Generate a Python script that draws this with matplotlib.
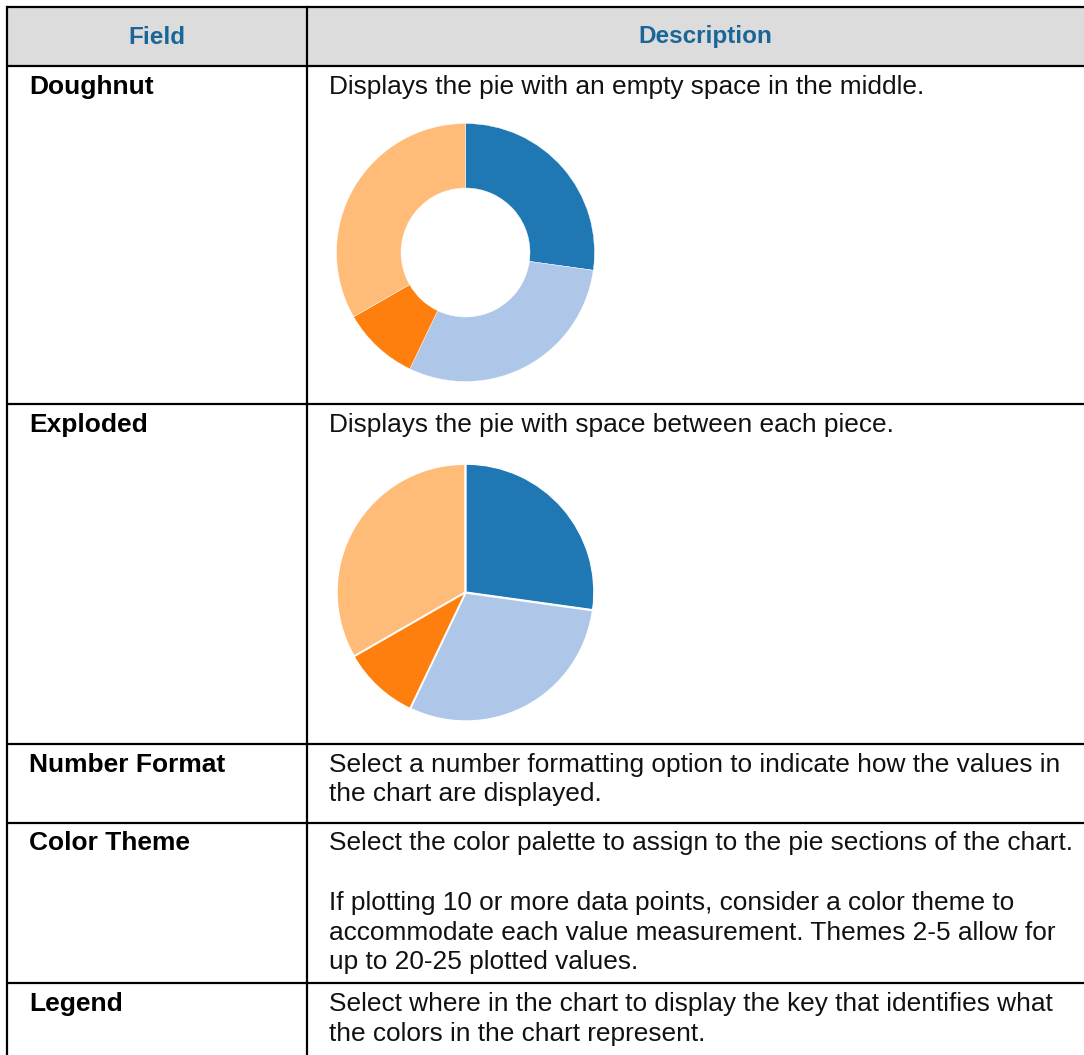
import matplotlib.pyplot as plt

W, H = 1084, 1055
DPI = 100

# table content
header = ["Field", "Description"]
fields = ["Doughnut", "Exploded", "Number Format", "Color Theme", "Legend"]
descriptions = [
    ["Displays the pie with an empty space in the middle."],
    ["Displays the pie with space between each piece."],
    ["Select a number formatting option to indicate how the values in",
     "the chart are displayed."],
    ["Select the color palette to assign to the pie sections of the chart.",
     None,
     "If plotting 10 or more data points, consider a color theme to",
     "accommodate each value measurement. Themes 2-5 allow for",
     "up to 20-25 plotted values."],
    ["Select where in the chart to display the key that identifies what",
     "the colors in the chart represent."],
]

# sample pie values (share of the circle, clockwise from 12 o'clock)
pie_values = [27.2, 29.9, 9.6, 33.3]
pie_colors = ["#1f77b4", "#aec7e8", "#ff7f0e", "#ffbb78"]

plt.rcParams['font.family'] = ['Liberation Sans', 'DejaVu Sans']

fig = plt.figure(figsize=(W / DPI, H / DPI), dpi=DPI)
ax = fig.add_axes([0, 0, 1, 1])
ax.set_xlim(0, W)
ax.set_ylim(H, 0)
ax.axis("off")

left, mid, right = 7, 307, W + 5
row_tops = [7, 66, 404, 744, 823, 983]
lw = 1.6

# header band
ax.fill_between([left, right], row_tops[0], row_tops[1], color="#dcdcdc", lw=0)
for y in row_tops:
    ax.plot([left, right], [y, y], color="black", lw=lw, solid_capstyle="butt")
ax.plot([left, left], [row_tops[0], H + 5], color="black", lw=lw)
ax.plot([mid, mid], [row_tops[0], H + 5], color="black", lw=lw)

hdr_color = "#1a6699"
ax.text((left + mid) / 2, 37, header[0], ha="center", va="center",
        fontsize=17.5, fontweight="bold", color=hdr_color)
ax.text(705, 37, header[1], ha="center", va="center",
        fontsize=17.5, fontweight="bold", color=hdr_color)

line_gap = 29.5
for i, (f, desc) in enumerate(zip(fields, descriptions)):
    y0 = row_tops[i + 1] + 21
    if i == 3:
        y0 -= 1
    ax.text(29, y0, f, ha="left", va="center", fontsize=19.0,
            fontweight="bold", color="black")
    y = y0
    for line in desc:
        if line is None:
            y += 1.05 * line_gap
            continue
        ax.text(329, y, line, ha="left", va="center", fontsize=18.9,
                color="#111111")
        y += line_gap


def pie_axes(cx, cy, r):
    return fig.add_axes([(cx - r) / W, 1 - (cy + r) / H, 2 * r / W, 2 * r / H])


# doughnut
pa = pie_axes(465.5, 252.5, 129)
pa.pie(pie_values, colors=pie_colors, startangle=90, counterclock=False,
       radius=1.0, wedgeprops=dict(width=0.5, edgecolor="white", linewidth=0.3))
pa.set_aspect("equal")
pa.set_xlim(-1, 1)
pa.set_ylim(-1, 1)

# exploded
pb = pie_axes(465.5, 592.5, 129)
pb.pie(pie_values, colors=pie_colors, startangle=90, counterclock=False,
       radius=0.99, explode=[0.006] * 4,
       wedgeprops=dict(edgecolor="white", linewidth=0.8))
pb.set_aspect("equal")
pb.set_xlim(-1, 1)
pb.set_ylim(-1, 1)

fig.savefig("out.png", dpi=DPI)
